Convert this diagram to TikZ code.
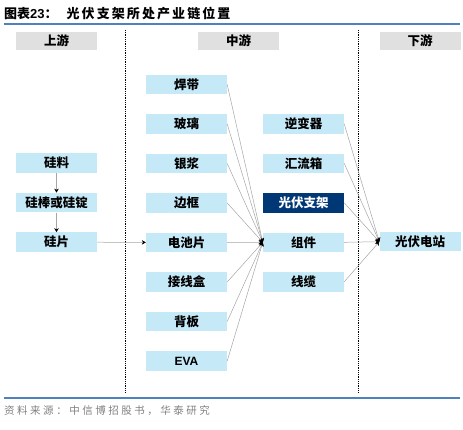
\documentclass[tikz,border=0pt]{standalone}
\usepackage{fontspec}
\setmainfont{Liberation Sans}
\newfontfamily\cjk{Noto Sans CJK SC}
\usetikzlibrary{arrows.meta,positioning}

\definecolor{boxblue}{RGB}{198,233,248}
\definecolor{headgray}{RGB}{224,224,224}
\definecolor{navybox}{RGB}{0,56,118}
\definecolor{ruleblue}{RGB}{79,129,189}
\definecolor{linegray}{RGB}{165,165,165}
\definecolor{srcgray}{RGB}{128,128,128}

\begin{document}
\begin{tikzpicture}[x=1pt, y=-1pt,
    node distance=19.6pt,
    box/.style={rectangle, fill=boxblue, minimum width=81pt, minimum height=19.5pt, inner sep=0pt, text centered, font=\cjk\bfseries\fontsize{12.5}{13}\selectfont},
    head/.style={box, fill=headgray, minimum height=18pt},
    link/.style={-{Stealth[length=4pt, width=4.5pt, color=black]}, draw=linegray, line width=0.5pt},
    divider/.style={densely dotted, line width=0.8pt},
    rulerline/.style={draw=ruleblue, line width=1.3pt}
]
    \useasboundingbox (0,0) rectangle (463,429);

    % title and rules
    \node[anchor=west, inner sep=0pt, font=\cjk\bfseries\fontsize{13}{14}\selectfont] (title) at (4,14) {图表{\setmainfont{Liberation Sans}\bfseries\fontsize{13}{14}\selectfont 23}：\hspace{9pt}{\addfontfeature{LetterSpace=16}光伏支架所处产业链位置}};
    \draw[rulerline] (4,24) -- (460,24);
    \draw[rulerline] (4,398) -- (460,398);
    \node[anchor=west, inner sep=0pt, text=srcgray, font=\cjk\fontsize{10.5}{12}\selectfont\addfontfeature{LetterSpace=24}] (source) at (4,411) {资料来源：中信博招股书，华泰研究};

    \draw[divider] (125,30) -- (125,393);
    \draw[divider] (358,30) -- (358,393);

    % stage headers
    \node[head] (upstream) at (56.5,41) {上游};
    \node[head] (midstream) at (238.5,41) {中游};
    \node[head] (downstream) at (420,41) {下游};

    % upstream
    \node[box] (silicon) at (56.5,163.1) {硅料};
    \node[box, below=of silicon] (ingot) {硅棒或硅锭};
    \node[box, below=of ingot] (wafer) {硅片};

    % materials
    \node[box] (ribbon) at (186.5,84.5) {焊带};
    \node[box, below=of ribbon] (glass) {玻璃};
    \node[box, below=of glass] (paste) {银浆};
    \node[box, below=of paste] (frame) {边框};
    \node[box, below=of frame] (cell) {电池片};
    \node[box, below=of cell] (jbox) {接线盒};
    \node[box, below=of jbox] (backsheet) {背板};
    \node[box, below=of backsheet, font=\bfseries\fontsize{12}{13}\selectfont] (eva) {EVA};

    % system parts
    \node[box] (inverter) at (303.5,123.8) {逆变器};
    \node[box, below=of inverter] (combiner) {汇流箱};
    \node[box, below=of combiner, fill=navybox, text=white] (mount) {光伏支架};
    \node[box, below=of mount] (module) {组件};
    \node[box, below=of module] (cable) {线缆};

    % downstream
    \node[box] (plant) at (420,241.7) {光伏电站};

    \draw[link] (silicon) -- (ingot);
    \draw[link] (ingot) -- (wafer);
    \draw[link] (wafer) -- (cell);

    \foreach \src in {ribbon,glass,paste,frame,cell,jbox,backsheet,eva}
        \draw[link] (\src.east) -- (module.west);
    \foreach \src in {inverter,combiner,mount,module,cable}
        \draw[link] (\src.east) -- (plant.west);
\end{tikzpicture}
\end{document}
